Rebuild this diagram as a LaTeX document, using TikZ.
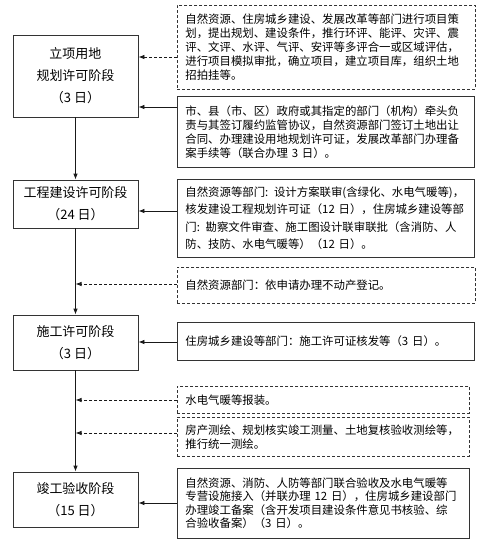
\documentclass[tikz,border=0pt]{standalone}
\usepackage{fontspec}
\setmainfont{Noto Sans CJK SC}
\usetikzlibrary{arrows.meta}
\tikzset{
  stage/.style={draw=black!80, line width=0.8pt, minimum width=125pt, align=center,
    inner sep=0pt, font=\fontsize{13}{22}\selectfont},
  note/.style={draw=black!80, line width=0.8pt, align=left, anchor=north west,
    inner xsep=8pt, inner ysep=0pt, font=\fontsize{11.4}{14}\selectfont},
  dnote/.style={note, dash pattern=on 3pt off 2pt},
  flow/.style={-{Latex[length=6pt,width=4.5pt]}, line width=0.8pt, black!90},
  dflow/.style={flow, dash pattern=on 3pt off 2pt},
}
\begin{document}
\begin{tikzpicture}[x=1pt, y=-1pt]
      \useasboundingbox (0,0) rectangle (480,547);
      \node[stage, minimum height=82pt] (l1) at (75.5,76) {立项用地\\规划许可阶段\\（3 日）};
      \node[stage, minimum height=48pt] (l2) at (75.5,204) {工程建设许可阶段\\（24 日）};
      \node[stage, minimum height=55pt] (l3) at (75.5,342.5) {施工许可阶段\\（3 日）};
      \node[stage, minimum height=55pt] (l4) at (75.5,499.5) {竣工验收阶段\\（15 日）};
      \node[dnote, text width=282pt, minimum height=84pt] (r1) at (177,5)
        {自然资源、住房城乡建设、发展改革等部门进行项目策\\
         划，提出规划、建设条件，推行环评、能评、灾评、震\\
         评、文评、水评、气评、安评等多评合一或区域评估，\\
         进行项目模拟审批，确立项目，建立项目库，组织土地\\
         招拍挂等。};
      \node[note, text width=281pt, minimum height=71pt] (r2) at (177,96)
        {市、县（市、区）政府或其指定的部门（机构）牵头负\\
         责与其签订履约监管协议，自然资源部门签订土地出让\\
         合同、办理建设用地规划许可证，发展改革部门办理备\\
         案手续等（联合办理 3 日）。};
      \node[note, text width=281pt, minimum height=78pt,
        font=\fontsize{11.4}{17.5}\selectfont] (r3) at (177,179)
        {自然资源等部门: 设计方案联审(含绿化、水电气暖等)，\\
         核发建设工程规划许可证（12 日），住房城乡建设等部\\
         门: 勘察文件审查、施工图设计联审联批（含消防、人\\
         防、技防、水电气暖等）（12 日）。};
      \node[dnote, text width=282pt, minimum height=36pt] (r4) at (177,267)
        {自然资源部门：依申请办理不动产登记。};
      \node[note, text width=281pt, minimum height=38pt] (r5) at (177,322)
        {住房城乡建设等部门：施工许可证核发等（3 日）。};
      \node[dnote, text width=276pt, minimum height=27pt] (r6) at (177,386)
        {水电气暖等报装。};
      \node[dnote, text width=276pt, minimum height=39pt,
        font=\fontsize{11.4}{13.5}\selectfont] (r7) at (177,417)
        {房产测绘、规划核实竣工测量、土地复核验收测绘等，\\
         推行统一测绘。};
      \node[note, text width=276pt, minimum height=70pt,
        font=\fontsize{11.4}{13.5}\selectfont] (r8) at (177,468)
        {自然资源、消防、人防等部门联合验收及水电气暖等\\
         专营设施接入（并联办理 12 日），住房城乡建设部门\\
         办理竣工备案（含开发项目建设条件意见书核验、综\\
         合验收备案）（3 日）。};
      \coordinate (h1) at (0,57);
      \coordinate (h2) at (0,107);
      \coordinate (h3) at (0,211);
      \coordinate (h4) at (0,284);
      \coordinate (h5) at (0,342);
      \coordinate (h6) at (0,400);
      \coordinate (h7) at (0,433);
      \coordinate (h8) at (0,503);
      \begin{scope}[flow]
        \draw (l1) to (l2);
        \draw (l2) to (l3);
        \draw (l3) to (l4);
        \draw (r2.west |- h2) to (l1.east |- h2);
        \draw (r3.west |- h3) to (l2.east |- h3);
        \draw (r5.west |- h5) to (l3.east |- h5);
        \draw (r8.west |- h8) to (l4.east |- h8);
      \end{scope}
      \begin{scope}[dflow]
        \draw (r1.west |- h1) to (l1.east |- h1);
        \draw (r4.west |- h4) to (l2.south |- h4);
        \draw (r6.west |- h6) to (l3.south |- h6);
        \draw (r7.west |- h7) to (l3.south |- h7);
      \end{scope}
    \end{tikzpicture}
\end{document}
